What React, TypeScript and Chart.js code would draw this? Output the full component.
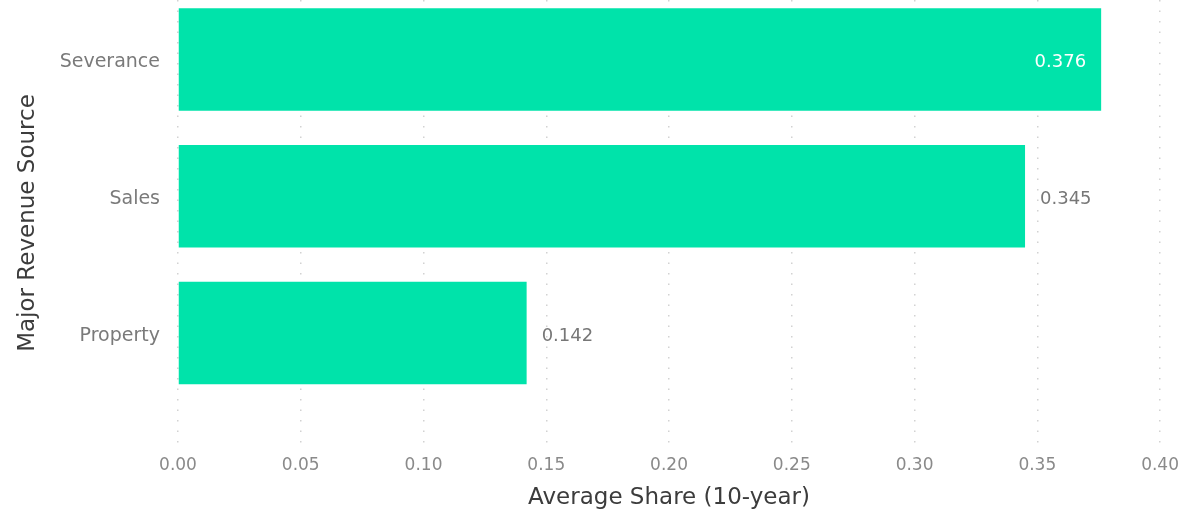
import React, { useEffect, useRef } from 'react';
import { Chart, registerables } from 'chart.js';

Chart.register(...registerables);

// Ten-year average share of revenue by source
const categories: string[] = ['Severance', 'Sales', 'Property'];
const averageShare: number[] = [0.376, 0.345, 0.142];
const shareTicks: number[] = [0, 0.05, 0.1, 0.15, 0.2, 0.25, 0.3, 0.35, 0.4];

const xTitle = 'Average Share (10-year)';
const yTitle = 'Major Revenue Source';

const FONT = '"DejaVu Sans", "Noto Sans", sans-serif';
const BAR_COLOR = '#00E3AA';

// Value labels: outside the bar end, or inside (white) when there is no room
const valueLabels = {
  id: 'valueLabels',
  afterDatasetsDraw(chart: any) {
    const { ctx, chartArea } = chart;
    const meta = chart.getDatasetMeta(0);
    ctx.save();
    ctx.font = `18px ${FONT}`;
    ctx.textBaseline = 'middle';
    meta.data.forEach((bar: any, i: number) => {
      const text = averageShare[i].toFixed(3);
      const w = ctx.measureText(text).width;
      const gap = 15;
      const y = bar.y + 3;
      if (bar.x + gap + w > chartArea.right) {
        ctx.fillStyle = '#ffffff';
        ctx.textAlign = 'right';
        ctx.fillText(text, bar.x - gap, y);
      } else {
        ctx.fillStyle = '#777777';
        ctx.textAlign = 'left';
        ctx.fillText(text, bar.x + gap, y);
      }
    });
    ctx.restore();
  },
};

export default function App() {
  const canvasRef = useRef<HTMLCanvasElement | null>(null);

  useEffect(() => {
    if (!canvasRef.current) return;
    const chart = new Chart(canvasRef.current, {
      type: 'bar',
      data: {
        datasets: [
          {
            data: averageShare.map((v, i) => ({ x: v, y: i })),
            backgroundColor: BAR_COLOR,
            borderWidth: 0,
            barPercentage: 0.75,
            categoryPercentage: 1,
          },
        ],
      },
      options: {
        indexAxis: 'y',
        animation: false,
        responsive: true,
        maintainAspectRatio: false,
        layout: { padding: { top: 0, right: 27, bottom: 0, left: 0 } },
        plugins: {
          legend: { display: false },
          tooltip: { enabled: false },
        },
        scales: {
          x: {
            type: 'linear',
            min: 0,
            max: 0.4,
            afterBuildTicks: (scale: any) => {
              scale.ticks = shareTicks.map((v) => ({ value: v }));
            },
            afterFit: (scale: any) => {
              scale.height = 70;
            },
            ticks: {
              padding: 9,
              color: '#8a8a8a',
              font: { family: FONT, size: 17 },
              callback: (v: any) => Number(v).toFixed(2),
            },
            grid: {
              display: true,
              drawTicks: false,
              color: '#d2d2d2',
              lineWidth: 1.5,
            },
            border: { display: false, dash: [1.5, 9] },
            title: {
              display: true,
              text: xTitle,
              color: '#3c3c3c',
              font: { family: FONT, size: 23 },
              padding: { top: 4, bottom: 4 },
            },
          },
          y: {
            type: 'linear',
            reverse: true,
            offset: false,
            min: -0.435,
            max: 2.826,
            afterBuildTicks: (scale: any) => {
              scale.ticks = categories.map((_, i) => ({ value: i }));
            },
            afterFit: (scale: any) => {
              scale.width = 178;
              scale.paddingTop = 0;
              scale.paddingBottom = 0;
            },
            ticks: {
              padding: 18,
              labelOffset: 3,
              color: '#7a7a7a',
              font: { family: FONT, size: 19 },
              callback: (v: any) => categories[Number(v)] ?? '',
            },
            grid: { display: false, drawTicks: false, offset: false },
            border: { display: false },
            title: {
              display: true,
              text: yTitle,
              color: '#3c3c3c',
              font: { family: FONT, size: 23 },
              padding: { top: 14, bottom: 0 },
            },
          },
        },
      },
      plugins: [valueLabels],
    });
    return () => chart.destroy();
  }, []);

  return (
    <div style={{ position: 'fixed', left: 0, top: 0, width: 1188, height: 516, background: '#ffffff' }}>
      <canvas ref={canvasRef} />
    </div>
  );
}
